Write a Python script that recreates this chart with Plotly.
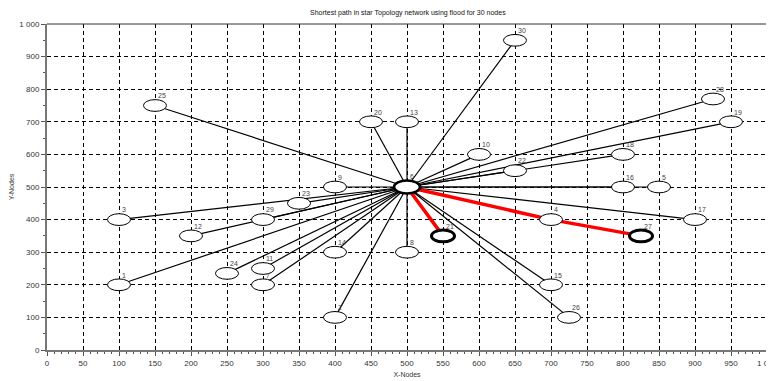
import plotly.graph_objects as go

# Node data
node_labels = ["1", "2", "3", "4", "5", "7", "8", "9", "10", "11", "12", "13", "14", "15",
               "16", "17", "18", "19", "20", "21", "22", "23", "24", "25", "26", "27",
               "28", "29", "30"]
node_x = [100, 400, 100, 700, 850, 300, 500, 400, 600, 300, 200, 500, 400, 700,
          800, 900, 800, 950, 450, 550, 650, 350, 250, 150, 725, 825,
          925, 300, 650]
node_y = [200, 100, 400, 400, 500, 200, 300, 500, 600, 250, 350, 700, 300, 200,
          500, 400, 600, 700, 700, 350, 550, 450, 235, 750, 100, 350,
          770, 400, 950]
center_label = "6"
center_x = 500
center_y = 500

# shortest path (red)
path_x = [[500, 550], [500, 700, 825]]
path_y = [[500, 350], [500, 400, 350]]
highlight = ["21", "27"]

title = "Shortest path in star Topology network using flood for 30 nodes"

FONT = "Liberation Sans, Arial"
fig = go.Figure()

# edges from center
ex, ey = [], []
for lab, x, y in zip(node_labels, node_x, node_y):
    if lab == "27":
        continue
    ex += [center_x, x, None]
    ey += [center_y, y, None]
fig.add_trace(go.Scatter(x=ex, y=ey, mode="lines",
                         line=dict(color="black", width=1.2),
                         hoverinfo="skip", showlegend=False))

# red path
for px, py in zip(path_x, path_y):
    fig.add_trace(go.Scatter(x=px, y=py, mode="lines",
                             line=dict(color="#ff0000", width=3.5),
                             hoverinfo="skip", showlegend=False))

# ellipses
rx, ry = 16, 18
for lab, x, y in zip(node_labels, node_x, node_y):
    w = 3 if lab in highlight else 1
    fig.add_shape(type="circle", xref="x", yref="y",
                  x0=x - rx, x1=x + rx, y0=y - ry, y1=y + ry,
                  line=dict(color="black", width=w), fillcolor="white", layer="above")
    fig.add_annotation(x=x, y=y + ry - 5, text=lab, showarrow=False,
                       xanchor="left", yanchor="bottom", xshift=1,
                       font=dict(size=7, color="#444", family=FONT))
fig.add_shape(type="circle", xref="x", yref="y",
              x0=center_x - 18, x1=center_x + 18, y0=center_y - 20, y1=center_y + 20,
              line=dict(color="black", width=2.5), fillcolor="white", layer="above")
fig.add_annotation(x=center_x, y=center_y + 15, text=center_label, showarrow=False,
                   xanchor="left", yanchor="bottom", xshift=1,
                   font=dict(size=7, color="#444", family=FONT))

# frame top/right
fig.add_shape(type="line", xref="paper", yref="paper", x0=0, x1=1, y0=1, y1=1,
              line=dict(color="#333", width=1), layer="above")
fig.add_shape(type="line", xref="paper", yref="paper", x0=1, x1=1, y0=0, y1=1,
              line=dict(color="#999", width=2), layer="above")

font = dict(family=FONT, size=8, color="#333")
fig.update_layout(
    width=766, height=373,
    margin=dict(l=39, r=7, t=16, b=31),
    paper_bgcolor="white", plot_bgcolor="white",
    separators=". ",
    title=dict(text=title, x=0.522, xanchor="center", y=0.987, yanchor="middle",
               font=dict(family=FONT, size=7, color="#111")),
    xaxis=dict(range=[0, 1000], dtick=50, tick0=0, showgrid=True, automargin=False,
               gridcolor="black", griddash="4px,3px", gridwidth=0.8,
               zeroline=False, showline=True, linecolor="#777", linewidth=2,
               ticks="outside", ticklen=4, tickcolor="#555", ticklabeloverflow="allow",
               minor=dict(dtick=10, ticks="outside", ticklen=2, tickcolor="#555", showgrid=False),
               separatethousands=True, tickfont=font,
               title=dict(text="X-Nodes", font=dict(family=FONT, size=7, color="#333"), standoff=6)),
    yaxis=dict(range=[0, 1000], dtick=100, tick0=0, showgrid=True, automargin=False,
               gridcolor="black", griddash="4px,3px", gridwidth=0.8,
               zeroline=False, showline=True, linecolor="#777", linewidth=2,
               ticks="outside", ticklen=4, tickcolor="#555", ticklabeloverflow="allow",
               minor=dict(dtick=50, ticks="outside", ticklen=2, tickcolor="#555", showgrid=False),
               separatethousands=True, tickfont=font,
               title=dict(text="Y-Nodes", font=dict(family=FONT, size=7, color="#333"), standoff=8)),
)

fig.write_html("out.html")
